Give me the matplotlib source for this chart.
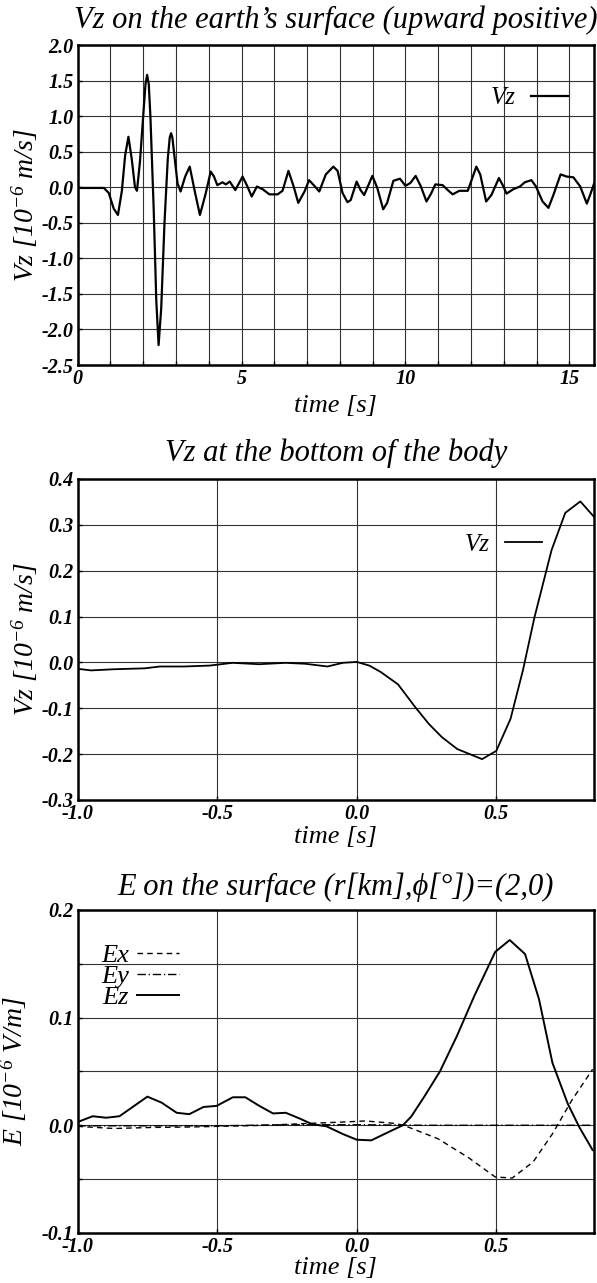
import matplotlib
matplotlib.use("Agg")
import matplotlib.pyplot as plt

plt.rcParams['font.family'] = ['Liberation Serif', 'DejaVu Serif']
plt.rcParams['font.style'] = 'italic'
plt.rcParams['axes.unicode_minus'] = False
plt.rcParams['mathtext.fontset'] = 'custom'
plt.rcParams['mathtext.rm'] = 'Liberation Serif:italic'
plt.rcParams['mathtext.it'] = 'Liberation Serif:italic'
plt.rcParams['mathtext.default'] = 'rm'

# --- Vz on the earth's surface ---
t_surf = [0.0, 0.5, 0.8, 0.95, 1.1, 1.23, 1.35, 1.45, 1.55, 1.65, 1.75, 1.81, 1.9, 2.0,
          2.07, 2.12, 2.17, 2.22, 2.32, 2.40, 2.47, 2.55, 2.65, 2.75, 2.81, 2.85, 2.89,
          2.95, 3.05, 3.14, 3.28, 3.42, 3.57, 3.73, 3.9, 4.06, 4.16, 4.26, 4.42, 4.52,
          4.64, 4.81, 5.03, 5.17, 5.31, 5.47, 5.65, 5.85, 6.1, 6.25, 6.43, 6.59, 6.73,
          6.92, 7.06, 7.24, 7.37, 7.57, 7.80, 7.93, 8.08, 8.23, 8.33, 8.51, 8.63, 8.74,
          8.99, 9.14, 9.32, 9.44, 9.63, 9.83, 10.0, 10.15, 10.31, 10.47, 10.64, 10.78,
          10.91, 11.13, 11.29, 11.44, 11.64, 11.90, 12.0, 12.16, 12.28, 12.46, 12.62,
          12.85, 13.0, 13.08, 13.28, 13.49, 13.64, 13.84, 13.98, 14.18, 14.36, 14.51,
          14.73, 14.92, 15.12, 15.33, 15.53, 15.63, 15.75]
vz_surf = [-0.01, -0.01, -0.01, -0.08, -0.30, -0.39, -0.05, 0.45, 0.71, 0.40, 0.0, -0.05,
           0.35, 1.0, 1.45, 1.58, 1.45, 1.0, -0.3, -1.6, -2.22, -1.7, -0.5, 0.4, 0.70,
           0.76, 0.70, 0.45, 0.05, -0.06, 0.15, 0.29, -0.05, -0.39, -0.1, 0.22, 0.15,
           0.03, 0.07, 0.04, 0.08, -0.04, 0.15, 0.02, -0.13, 0.01, -0.03, -0.10, -0.10,
           -0.05, 0.23, 0.01, -0.22, -0.06, 0.10, 0.01, -0.06, 0.18, 0.29, 0.23, -0.08,
           -0.21, -0.18, 0.08, -0.04, -0.11, 0.16, -0.01, -0.31, -0.22, 0.09, 0.12, 0.02,
           0.06, 0.16, 0.01, -0.20, -0.09, 0.04, 0.03, -0.04, -0.10, -0.05, -0.05, 0.08,
           0.29, 0.18, -0.20, -0.11, 0.13, 0.0, -0.09, -0.03, 0.01, 0.07, 0.10, 0.01,
           -0.20, -0.29, -0.11, 0.18, 0.15, 0.14, 0.01, -0.23, -0.11, 0.05]
surf_xticks = [0, 5, 10, 15]
surf_yticks = [-2.5, -2.0, -1.5, -1.0, -0.5, 0.0, 0.5, 1.0, 1.5, 2.0]

# --- Vz at the bottom of the body ---
t_body = [-1.0, -0.952, -0.87, -0.76, -0.705, -0.62, -0.527, -0.445, -0.35, -0.255,
          -0.185, -0.105, -0.05, 0.0, 0.045, 0.086, 0.148, 0.21, 0.258, 0.305, 0.36,
          0.449, 0.5, 0.551, 0.595, 0.637, 0.698, 0.747, 0.801, 0.849]
vz_body = [-0.014, -0.0175, -0.015, -0.013, -0.009, -0.009, -0.007, -0.001, -0.004,
           -0.001, -0.003, -0.009, -0.001, 0.001, -0.007, -0.021, -0.048, -0.098, -0.134,
           -0.163, -0.189, -0.211, -0.193, -0.123, -0.018, 0.099, 0.245, 0.326, 0.351,
           0.318]
body_yticks = [-0.3, -0.2, -0.1, 0.0, 0.1, 0.2, 0.3, 0.4]

# --- E on the surface ---
t_ez = [-1.0, -0.946, -0.898, -0.85, -0.75, -0.699, -0.645, -0.6, -0.549, -0.502, -0.444,
        -0.399, -0.349, -0.3, -0.254, -0.202, -0.16, -0.108, -0.051, 0.0, 0.052, 0.1,
        0.165, 0.195, 0.243, 0.298, 0.359, 0.421, 0.496, 0.548, 0.603, 0.653, 0.701,
        0.756, 0.797, 0.845]
ez = [0.003, 0.0084, 0.007, 0.0084, 0.0266, 0.021, 0.0116, 0.0103, 0.017, 0.018, 0.026,
      0.026, 0.018, 0.011, 0.0116, 0.006, 0.001, -0.001, -0.008, -0.0134, -0.014, -0.008,
      0.0, 0.008, 0.027, 0.05, 0.083, 0.12, 0.161, 0.172, 0.159, 0.117, 0.058, 0.020,
      -0.0016, -0.023]
t_ex = [-1.0, -0.87, -0.733, -0.596, -0.5, -0.325, -0.185, -0.05, 0.03, 0.127, 0.168,
        0.291, 0.4, 0.496, 0.557, 0.632, 0.701, 0.77, 0.845]
ex = [-0.001, -0.003, -0.002, -0.0016, -0.001, 0.0, 0.0016, 0.003, 0.004, 0.002, 0.0,
      -0.0125, -0.030, -0.048, -0.049, -0.034, -0.008, 0.023, 0.052]
t_ey = [-1.0, -0.5, -0.25, 0.0, 0.25, 0.5, 0.845]
ey = [-0.0005, -0.0005, 0.0005, 0.0005, 0.0, 0.0, 0.0]
e_yticks = [-0.1, 0.0, 0.1, 0.2]
e_ygrid = [-0.05, 0.05, 0.15]

time_ticks = [-1.0, -0.5, 0.0, 0.5]

TICK_SIZE = 14.5


def style_axes(ax):
    for s in ax.spines.values():
        s.set_linewidth(1.8)
    ax.tick_params(which='both', direction='in', length=3, width=1, pad=3)
    ax.grid(True, which='both', color='#333333', linewidth=0.8)
    ax.set_axisbelow(True)


def bold_ticks(ax):
    for lab in ax.get_xticklabels() + ax.get_yticklabels():
        lab.set_fontsize(TICK_SIZE)
        lab.set_fontweight('bold')
        lab.set_fontstyle('italic')


fig = plt.figure(figsize=(5.97, 12.83), dpi=100)

# top panel
ax1 = fig.add_axes([0.130, 0.7155, 0.865, 0.2494])
ax1.plot(t_surf, vz_surf, color='black', linewidth=1.6, label='Vz')
style_axes(ax1)
ax1.set_xticks(surf_xticks, ['%d' % v for v in surf_xticks])
ax1.set_xticks(range(16), minor=True)
ax1.set_yticks(surf_yticks, ['%.1f' % v for v in surf_yticks])
ax1.set_xlim(0, 15.75)
ax1.set_ylim(-2.5, 2.0)
ax1.set_title('Vz on the earth\u2019s surface (upward positive)', fontsize=22, pad=12.5)
ax1.set_xlabel('time [s]', fontsize=19, labelpad=4)
ax1.set_ylabel(r'Vz [10$^{-6}$ m/s]', fontsize=20, labelpad=1)
ax1.legend(loc='center right', bbox_to_anchor=(0.95, 0.834), frameon=False,
           markerfirst=False, fontsize=18, handlelength=1.5, borderpad=0,
           borderaxespad=0, handletextpad=0.6)

# middle panel
ax2 = fig.add_axes([0.130, 0.3765, 0.865, 0.2502])
ax2.plot(t_body, vz_body, color='black', linewidth=1.3, label='Vz')
style_axes(ax2)
ax2.set_xticks(time_ticks, ['%.1f' % v for v in time_ticks])
ax2.set_yticks(body_yticks, ['%.1f' % v for v in body_yticks])
ax2.set_xlim(-1.0, 0.85)
ax2.set_ylim(-0.3, 0.4)
ax2.set_title('Vz at the bottom of the body', fontsize=22, pad=13)
ax2.set_xlabel('time [s]', fontsize=19, labelpad=1)
ax2.set_ylabel(r'Vz [10$^{-6}$ m/s]', fontsize=20, labelpad=1)
ax2.legend(loc='center right', bbox_to_anchor=(0.90, 0.795), frameon=False,
           markerfirst=False, fontsize=18, handlelength=1.5, borderpad=0,
           borderaxespad=0, handletextpad=0.6)

# bottom panel
ax3 = fig.add_axes([0.130, 0.039, 0.865, 0.2518])
ax3.plot(t_ex, ex, color='black', linewidth=1.0, linestyle=(0, (4, 3)), label='Ex')
ax3.plot(t_ey, ey, color='black', linewidth=1.0, linestyle=(0, (6, 2, 1, 2)), label='Ey')
ax3.plot(t_ez, ez, color='black', linewidth=1.4, label='Ez')
style_axes(ax3)
ax3.set_xticks(time_ticks, ['%.1f' % v for v in time_ticks])
ax3.set_yticks(e_yticks, ['%.1f' % v for v in e_yticks])
ax3.set_yticks(e_ygrid, minor=True)
ax3.set_xlim(-1.0, 0.85)
ax3.set_ylim(-0.1, 0.2)
ax3.set_title('E on the surface (r[km],\u03d5[\u00b0])=(2,0)', fontsize=22, pad=11)
ax3.set_xlabel('time [s]', fontsize=19, labelpad=0)
ax3.set_ylabel(r'E [10$^{-6}$ V/m]', fontsize=20, labelpad=9)
ax3.legend(loc='upper left', bbox_to_anchor=(0.045, 0.895), frameon=False,
           markerfirst=False, fontsize=19, handlelength=1.6, borderpad=0,
           borderaxespad=0, handletextpad=0.3, labelspacing=-0.1)

for ax in (ax1, ax2, ax3):
    bold_ticks(ax)

fig.savefig('out.png', dpi=100)
